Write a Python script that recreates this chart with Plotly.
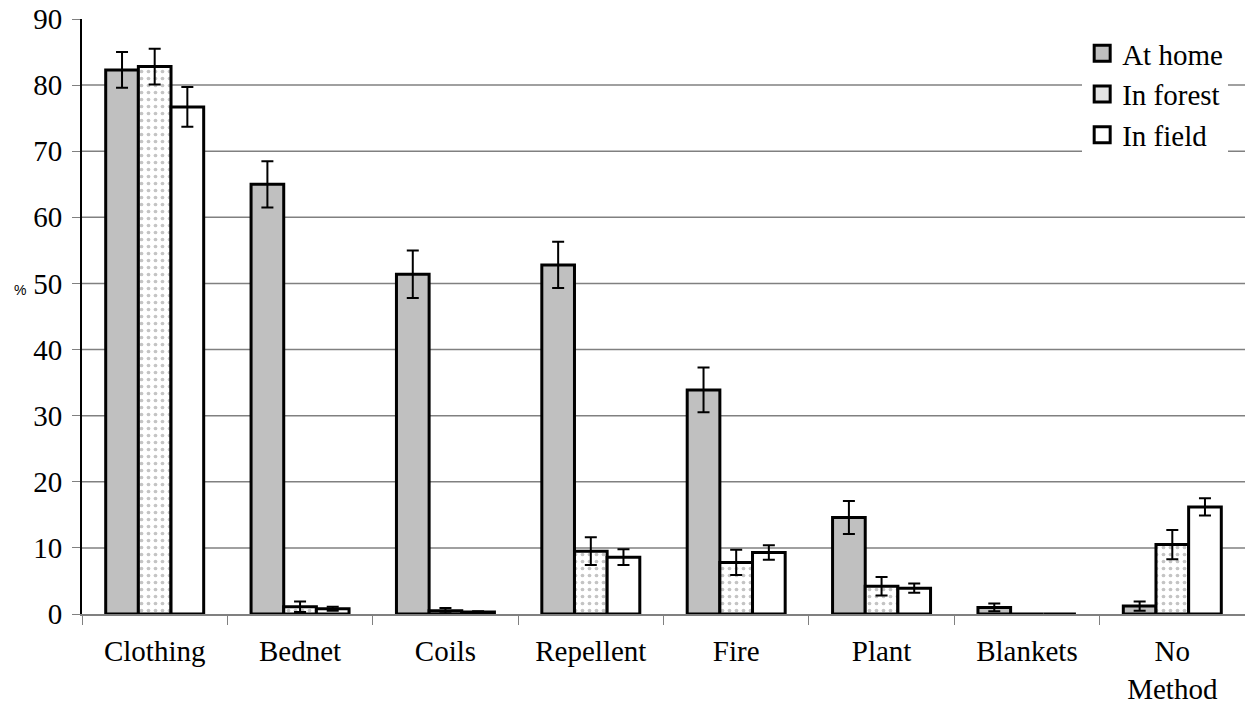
import plotly.graph_objects as go

categories = ["Clothing", "Bednet", "Coils", "Repellent", "Fire", "Plant", "Blankets", "No<br>Method"]
at_home = [82.3, 65.0, 51.4, 52.8, 33.9, 14.6, 1.0, 1.2]
at_home_err = [2.7, 3.5, 3.6, 3.5, 3.4, 2.5, 0.6, 0.7]
in_forest = [82.8, 1.1, 0.5, 9.5, 7.8, 4.2, 0.0, 10.5]
in_forest_err = [2.7, 0.8, 0.4, 2.1, 1.9, 1.4, 0.0, 2.2]
in_field = [76.7, 0.8, 0.3, 8.6, 9.3, 3.9, 0.0, 16.2]
in_field_err = [3.0, 0.3, 0.1, 1.2, 1.1, 0.7, 0.0, 1.3]
y_ticks = [0, 10, 20, 30, 40, 50, 60, 70, 80, 90]
series_names = ["At home", "In forest", "In field"]

FONT = "Liberation Serif, Times New Roman, serif"
err_style = dict(type="data", color="black", thickness=2, width=6, visible=True)
line_style = dict(color="black", width=3)

fig = go.Figure()
fig.add_trace(go.Bar(
    name=series_names[0], x=categories, y=at_home, showlegend=False,
    error_y=dict(array=at_home_err, **err_style),
    marker=dict(color="#c0c0c0", line=line_style),
))
fig.add_trace(go.Bar(
    name=series_names[1], x=categories, y=in_forest, showlegend=False,
    error_y=dict(array=in_forest_err, **err_style),
    marker=dict(color="white", line=line_style,
                pattern=dict(shape=".", fgcolor="#8a8a8a", bgcolor="white", size=7, solidity=0.22)),
))
fig.add_trace(go.Bar(
    name=series_names[2], x=categories, y=in_field, showlegend=False,
    error_y=dict(array=in_field_err, **err_style),
    marker=dict(color="white", line=line_style),
))

# legend proxies (no data drawn)
legend_fills = ["#c0c0c0", "#e4e4e4", "white"]
for nm, fc in zip(series_names, legend_fills):
    fig.add_trace(go.Scatter(
        name=nm, x=[None], y=[None], mode="markers",
        marker=dict(symbol="square", size=18, color=fc, line=dict(color="black", width=3)),
    ))

for v in y_ticks[1:-1]:
    fig.add_shape(type="line", xref="paper", yref="y", x0=0, x1=1, y0=v, y1=v,
                  line=dict(color="#808080", width=1.5), layer="below")

fig.add_annotation(text="%", xref="paper", yref="y", x=-0.0535, y=49, showarrow=False,
                   xanchor="center", yanchor="middle",
                   font=dict(family="Liberation Sans", size=14, color="black"))

fig.update_layout(
    width=1245, height=708,
    margin=dict(l=82, r=0, t=19, b=94, autoexpand=False),
    paper_bgcolor="white", plot_bgcolor="white",
    barmode="group", bargap=0.326, bargroupgap=0,
    font=dict(family=FONT, size=29, color="black"),
    showlegend=True,
    legend=dict(x=0.86, y=0.985, xanchor="left", yanchor="top", bgcolor="white",
                font=dict(family=FONT, size=29, color="black"), itemwidth=30,
                tracegroupgap=0, itemclick=False),
    xaxis=dict(showline=True, linecolor="#808080", linewidth=2, ticks="outside",
               tickson="boundaries", ticklen=9, tickcolor="#808080", tickwidth=1,
               showgrid=False, ticklabelstandoff=10, automargin=False,
               tickfont=dict(family=FONT, size=29)),
    yaxis=dict(range=[0, 90], tickvals=y_ticks, showline=True, linecolor="black",
               linewidth=2, ticks="outside", ticklen=8, tickcolor="#808080", tickwidth=1,
               showgrid=False, zeroline=False, ticklabelstandoff=4, automargin=False,
               tickfont=dict(family=FONT, size=29)),
)

fig.write_html("out.html", config={"displayModeBar": False},
               post_script="document.body.style.margin='0';document.body.style.overflow='hidden';")
